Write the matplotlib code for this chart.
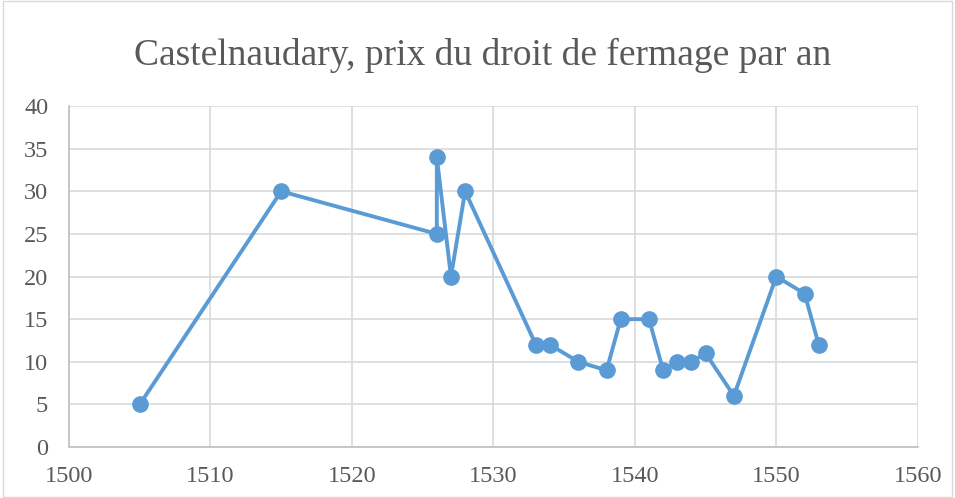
import matplotlib
matplotlib.use('Agg')
import matplotlib.pyplot as plt

# données
annees = [1505, 1515, 1526, 1526, 1527, 1528, 1533, 1534, 1536, 1538, 1539,
          1541, 1542, 1543, 1544, 1545, 1547, 1550, 1552, 1553]
prix = [5, 30, 25, 34, 20, 30, 12, 12, 10, 9, 15,
        15, 9, 10, 10, 11, 6, 20, 18, 12]
xticks = [1500, 1510, 1520, 1530, 1540, 1550, 1560]
yticks = [0, 5, 10, 15, 20, 25, 30, 35, 40]

plt.rcParams['font.family'] = ['Liberation Serif', 'DejaVu Serif']

fig = plt.figure(figsize=(9.55, 4.98), dpi=100)
ax = fig.add_axes([0.0723, 0.1024, 0.8887, 0.6846])

ax.plot(annees, prix, color='#5B9BD5', linewidth=2.8, marker='o',
        markersize=11, zorder=3)

ax.set_xlim(1500, 1560)
ax.set_ylim(0, 40)
ax.set_xticks(xticks)
ax.set_yticks(yticks)
ax.grid(True, color='#D9D9D9', linewidth=1.2, zorder=0)
ax.set_axisbelow(True)
for s in ['top', 'right']:
    ax.spines[s].set_visible(False)
for s in ['left', 'bottom']:
    ax.spines[s].set_color('#BFBFBF')
    ax.spines[s].set_linewidth(1.2)
ax.tick_params(length=0, labelsize=17.5, labelcolor='#595959')
ax.tick_params(axis='y', pad=15)
ax.tick_params(axis='x', pad=14)

fig.text(0.505, 0.8695, "Castelnaudary, prix du droit de fermage par an",
         ha='center', va='baseline', fontsize=27, color='#595959')

# cadre du graphique
fig.patches.append(plt.Rectangle((0.003, 0.003), 0.994, 0.994,
                                 transform=fig.transFigure, fill=False,
                                 edgecolor='#D9D9D9', linewidth=1))

fig.savefig('out.png', dpi=100)
